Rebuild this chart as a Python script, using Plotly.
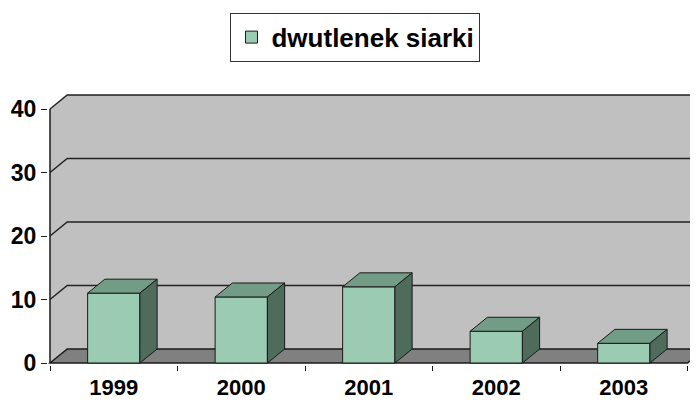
import plotly.graph_objects as go

years = ["1999", "2000", "2001", "2002", "2003"]
so2 = [11.0, 10.4, 12.0, 5.0, 3.1]
y_ticks = [0, 10, 20, 30, 40]

FRONT = "#9ccbb3"
TOP = "#739c87"
SIDE = "#4e6b5c"
WALL = "#c0c0c0"
FLOOR = "#808080"
EDGE = "#1a1a1a"

# fake 3d depth, in data units (about 17 px right and 14 px up)
DX = 0.135
DY = 2.2
BAR_W = 0.41
XMIN, XMAX = -0.5157, 4.582
YMIN, YMAX = -0.315, 42.52

xs = list(range(len(years)))
fig = go.Figure()

fig.add_trace(go.Bar(
    x=xs, y=so2, width=BAR_W, name="dwutlenek siarki",
    marker=dict(color=FRONT, line=dict(color=EDGE, width=1)),
))

# top and side faces of each box
for x, v in zip(xs, so2):
    xl, xr = x - BAR_W / 2, x + BAR_W / 2
    fig.add_trace(go.Scatter(
        x=[xl, xl + DX, xr + DX, xr, xl], y=[v, v + DY, v + DY, v, v],
        fill="toself", fillcolor=TOP, mode="lines",
        line=dict(color=EDGE, width=1), showlegend=False, hoverinfo="skip",
    ))
    fig.add_trace(go.Scatter(
        x=[xr, xr + DX, xr + DX, xr, xr], y=[0, DY, v + DY, v, 0],
        fill="toself", fillcolor=SIDE, mode="lines",
        line=dict(color=EDGE, width=1), showlegend=False, hoverinfo="skip",
    ))

left, right = -0.5, len(years) - 0.5
top = y_ticks[-1]
e = 0.02  # small overlap so the wall seam doesn't show
shapes = [
    # back wall + side wall
    dict(type="rect", x0=left + DX, x1=XMAX + 1, y0=DY, y1=top + DY,
         fillcolor=WALL, line_width=0, layer="below"),
    dict(type="path",
         path=(f"M {left},0 L {left + DX},{DY} L {left + DX + e},{DY} "
               f"L {left + DX + e},{top + DY} L {left + DX},{top + DY} L {left},{top} Z"),
         fillcolor=WALL, line_width=0, layer="below"),
    # floor
    dict(type="path",
         path=f"M {left},0 L {left + DX},{DY} L {right + DX},{DY} L {right},0 Z",
         fillcolor=FLOOR, line=dict(color=EDGE, width=1.5), layer="below"),
    # value axis line
    dict(type="line", x0=left, x1=left, y0=0, y1=top,
         line=dict(color=EDGE, width=1.5), layer="below"),
]
for t in y_ticks[1:]:
    shapes.append(dict(
        type="path",
        path=f"M {left},{t} L {left + DX},{t + DY} L {XMAX + 1},{t + DY}",
        line=dict(color="#222222", width=1.5), layer="below",
    ))

# page body has an 8px margin, so the figure is 8px smaller than the window
fig.update_layout(
    width=690,
    height=392,
    plot_bgcolor="white",
    paper_bgcolor="white",
    margin=dict(l=40, r=0, t=85, b=35, autoexpand=False),
    shapes=shapes,
    showlegend=True,
    legend=dict(
        xref="container", yref="container",
        x=0.5036, xanchor="center", y=0.988, yanchor="top",
        orientation="h",
        bgcolor="white", bordercolor="#333333", borderwidth=1,
        font=dict(family="Liberation Sans", size=26, color="black", weight="bold"),
    ),
    xaxis=dict(
        range=[XMIN, XMAX], automargin=False,
        tickmode="array", tickvals=xs, ticktext=years,
        ticks="", showgrid=False, zeroline=False, showline=False,
        ticklabelstandoff=7,
        tickfont=dict(family="Liberation Sans", size=22, color="black", weight="bold"),
        minor=dict(tickmode="array", tickvals=[i - 0.5 for i in range(len(years) + 1)],
                   ticks="outside", ticklen=5, tickcolor=EDGE, showgrid=False),
    ),
    yaxis=dict(
        range=[YMIN, YMAX], automargin=False,
        tickmode="array", tickvals=y_ticks,
        ticks="outside", ticklen=6, tickcolor=EDGE,
        showgrid=False, zeroline=False, showline=False,
        tickfont=dict(family="Liberation Sans", size=23, color="black", weight="bold"),
    ),
)

fig.write_html("out.html")
